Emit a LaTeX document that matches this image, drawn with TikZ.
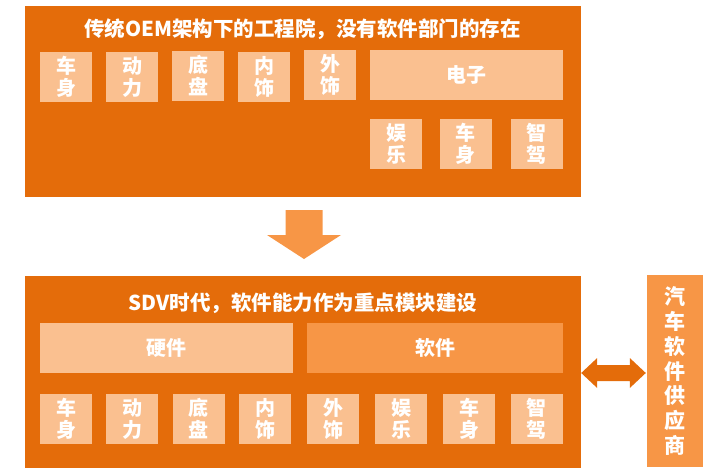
\documentclass[tikz,border=0pt]{standalone}
\usepackage{fontspec}
\setmainfont{Noto Sans CJK SC}
\usetikzlibrary{calc}
\definecolor{dorange}{HTML}{E46C0A}
\definecolor{lpeach}{HTML}{FAC090}
\definecolor{morange}{HTML}{F79646}
\tikzset{
  panel/.style={fill=dorange, draw=none, inner sep=0pt, minimum width=556pt},
  title/.style={text=white, font=\bfseries\fontsize{20.5}{24}\selectfont, inner sep=0pt},
  cell/.style={fill=lpeach, draw=none, inner sep=0pt, minimum width=52pt, minimum height=50pt,
    text=white, align=center, font=\bfseries\fontsize{20}{22}\selectfont},
  wide/.style={cell, minimum height=50pt},
  softcell/.style={wide, fill=morange},
  supplier/.style={fill=morange, draw=none, inner sep=0pt, minimum width=56pt, minimum height=192pt,
    text=white, align=center, font=\bfseries\fontsize{21}{24.7}\selectfont},
  bigarrow/.style={fill=morange, draw=none},
  dblarrow/.style={fill=dorange, draw=none}
}
\begin{document}
\begin{tikzpicture}[x=1pt,y=-1pt]
\useasboundingbox (0,0) rectangle (720,474);
% top panel
\node[panel, minimum height=191pt] (top) at (303,101.5) {};
\node[title] (toptitle) at (302.5,29) {传统OEM架构下的工程院，没有软件部门的存在};
\node[cell] (t1) at (66,77) {车\\身};
\node[cell] (t2) at (132,77) {动\\力};
\node[cell] (t3) at (198,76) {底\\盘};
\node[cell] (t4) at (264,77) {内\\饰};
\node[cell] (t5) at (330,75) {外\\饰};
\node[wide, minimum width=193pt] (elec) at (466.5,74.5) {电子};
\node[cell] (e1) at (396,144) {娱\\乐};
\node[cell] (e2) at (465.5,144) {车\\身};
\node[cell] (e3) at (536.5,144) {智\\驾};
% down arrow
\coordinate (dtop) at (304,210);
\coordinate (dtip) at (304,259);
\fill[bigarrow] ($(dtop)+(-18.5,0)$) -- ($(dtop)+(18.5,0)$) -- ($(dtop)+(18.5,25)$) -- ($(dtop)+(37,25)$)
  -- (dtip) -- ($(dtop)+(-37,25)$) -- ($(dtop)+(-18.5,25)$) -- cycle;
% bottom panel
\node[panel, minimum height=192pt] (bot) at (303,372) {};
\node[title] (bottitle) at (303,303) {SDV时代，软件能力作为重点模块建设};
\node[wide, minimum width=253pt] (hw) at (166.5,348) {硬件};
\node[softcell, minimum width=256pt] (sw) at (435,348) {软件};
\node[cell] (b1) at (66,419) {车\\身};
\node[cell] (b2) at (132,419) {动\\力};
\node[cell] (b3) at (198.5,419) {底\\盘};
\node[cell] (b4) at (265,419) {内\\饰};
\node[cell] (b5) at (333,419) {外\\饰};
\node[cell] (b6) at (401,419) {娱\\乐};
\node[cell] (b7) at (469,419) {车\\身};
\node[cell] (b8) at (536.5,419) {智\\驾};
% supplier
\node[supplier] (sup) at (675,371) {汽\\车\\软\\件\\供\\应\\商};
% double arrow
\coordinate (L) at ($(bot.east)+(0,1)$);
\coordinate (R) at ($(sup.west |- L)+(-1,0)$);
\fill[dblarrow] (L) -- ($(L)+(16,-15)$) -- ($(L)+(16,-8)$) -- ($(R)+(-16,-8)$) -- ($(R)+(-16,-15)$)
  -- (R) -- ($(R)+(-16,15)$) -- ($(R)+(-16,8)$) -- ($(L)+(16,8)$) -- ($(L)+(16,15)$) -- cycle;
\end{tikzpicture}
\end{document}
